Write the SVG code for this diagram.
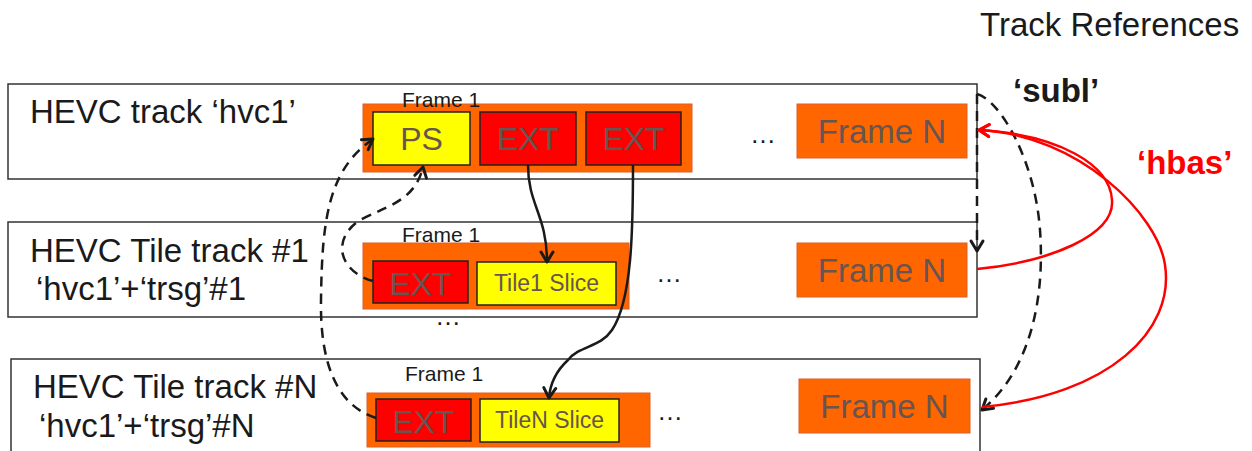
<svg xmlns="http://www.w3.org/2000/svg" width="1252" height="451" viewBox="0 0 1252 451">
  <defs>
    <marker id="arrowBlack" markerUnits="userSpaceOnUse" markerWidth="16" markerHeight="16" refX="11" refY="7" orient="auto" overflow="visible">
      <path d="M1,1 L11,7 L1,13" fill="none" stroke="#1a1a1a" stroke-width="3" stroke-linecap="round" stroke-linejoin="round"/>
    </marker>
    <marker id="arrowRed" markerUnits="userSpaceOnUse" markerWidth="16" markerHeight="16" refX="11" refY="7" orient="auto" overflow="visible">
      <path d="M1,1 L11,7 L1,13" fill="none" stroke="#ff0000" stroke-width="3" stroke-linecap="round" stroke-linejoin="round"/>
    </marker>
  </defs>
  <style>
    .track { fill: #ffffff; stroke: #333333; stroke-width: 1.5; }
    .frame { fill: #ff6600; stroke: #d9602e; stroke-width: 1; }
    .ext { fill: #ff0000; stroke: #222222; stroke-width: 1.5; }
    .ps { fill: #ffff00; stroke: #222222; stroke-width: 1.5; }
    .label { font-family: "Liberation Sans", Arial, sans-serif; fill: #1a1a1a; }
    .big { font-size: 33px; }
    .small { font-size: 21px; }
    .inner { font-family: "Liberation Sans", Arial, sans-serif; fill: #665550; text-anchor: middle; }
    .dots { font-family: "Liberation Sans", Arial, sans-serif; font-size: 26px; fill: #1a1a1a; }
    .ref { font-family: "Liberation Sans", Arial, sans-serif; font-weight: bold; font-size: 33px; }
    .dash { fill: none; stroke: #1a1a1a; stroke-width: 2.5; stroke-dasharray: 10 7; }
    .solid { fill: none; stroke: #1a1a1a; stroke-width: 2.5; }
    .red { fill: none; stroke: #ff0000; stroke-width: 2.5; }
  </style>

  <text class="label" x="980" y="36" font-size="33" fill="#333333">Track References</text>

  <!-- base track -->
  <g id="track-hvc1">
    <rect class="track" x="8" y="84" width="969" height="95"/>
    <text class="label big" x="30" y="123">HEVC track ‘hvc1’</text>
    <rect class="frame" x="363" y="104" width="329" height="68"/>
    <text class="label small" x="402" y="107">Frame 1</text>
    <rect class="ps" x="373" y="112" width="97" height="53"/>
    <text class="inner" x="421.5" y="150" font-size="32">PS</text>
    <rect class="ext" x="480" y="112" width="96" height="53"/>
    <text class="inner" x="528" y="150" font-size="32">EXT</text>
    <rect class="ext" x="586" y="112" width="95" height="53"/>
    <text class="inner" x="633.5" y="150" font-size="32">EXT</text>
    <text class="dots" x="750" y="143">…</text>
    <rect class="frame" x="797" y="104" width="170" height="54"/>
    <text class="inner" x="882" y="143" font-size="33">Frame N</text>
  </g>

  <!-- tile track 1 -->
  <g id="track-tile1">
    <rect class="track" x="8" y="222" width="969" height="95"/>
    <text class="label big" x="30" y="262">HEVC Tile track #1</text>
    <text class="label big" x="36" y="300">‘hvc1’+‘trsg’#1</text>
    <rect class="frame" x="363" y="243" width="266" height="66"/>
    <text class="label small" x="402" y="242">Frame 1</text>
    <rect class="ext" x="373" y="261" width="95" height="42"/>
    <text class="inner" x="420.5" y="295" font-size="32">EXT</text>
    <rect class="ps" x="477" y="262" width="139" height="43"/>
    <text class="inner" x="546.5" y="291" font-size="23">Tile1 Slice</text>
    <text class="dots" x="656" y="282">…</text>
    <text class="dots" x="435" y="325">…</text>
    <rect class="frame" x="797" y="243" width="170" height="54"/>
    <text class="inner" x="882" y="282" font-size="33">Frame N</text>
  </g>

  <!-- tile track N -->
  <g id="track-tileN">
    <rect class="track" x="11" y="359" width="969" height="110"/>
    <text class="label big" x="33" y="398">HEVC Tile track #N</text>
    <text class="label big" x="39" y="437">‘hvc1’+‘trsg’#N</text>
    <rect class="frame" x="367" y="393" width="283" height="54"/>
    <text class="label small" x="405" y="381">Frame 1</text>
    <rect class="ext" x="376" y="399" width="95" height="42"/>
    <text class="inner" x="423.5" y="433" font-size="32">EXT</text>
    <rect class="ps" x="480" y="399" width="139" height="43"/>
    <text class="inner" x="549.5" y="428" font-size="23">TileN Slice</text>
    <text class="dots" x="657" y="420">…</text>
    <rect class="frame" x="799" y="379" width="171" height="54"/>
    <text class="inner" x="884.5" y="418" font-size="33">Frame N</text>
  </g>

  <!-- connectors -->
  <g id="connectors">
    <!-- extractor links to parameter sets -->
    <path class="dash" d="M376,418 C335,405 320,360 321,300 C322,220 328,170 373,139" marker-end="url(#arrowBlack)"/>
    <path class="dash" d="M373,281 C340,272 330,240 360,220 C390,205 415,200 423,167" marker-end="url(#arrowBlack)"/>
    <!-- extractor links to tile slices -->
    <path class="solid" d="M528,165 C528,205 547,215 547,262" marker-end="url(#arrowBlack)"/>
    <path class="solid" d="M633,165 C633,230 632,300 612,330 C600,348 580,345 568,360 C555,372 550,385 549,398" marker-end="url(#arrowBlack)"/>
    <!-- 'subl' references -->
    <path class="dash" d="M977,94 L977,251" marker-end="url(#arrowBlack)"/>
    <path class="dash" d="M977,94 C1000,100 1035,160 1040,230 C1045,300 1030,370 982,410" marker-end="url(#arrowBlack)"/>
    <!-- 'hbas' references -->
    <path class="red" d="M977,269 C1050,262 1115,235 1112,200 C1110,165 1060,135 979,130" marker-end="url(#arrowRed)"/>
    <path class="red" d="M982,407 C1110,395 1175,330 1165,265 C1158,215 1080,135 979,130" marker-end="url(#arrowRed)"/>
    <text class="ref" x="1013" y="102" fill="#1a1a1a">‘subl’</text>
    <text class="ref" x="1137" y="174" fill="#ff0000">‘hbas’</text>
  </g>
</svg>
